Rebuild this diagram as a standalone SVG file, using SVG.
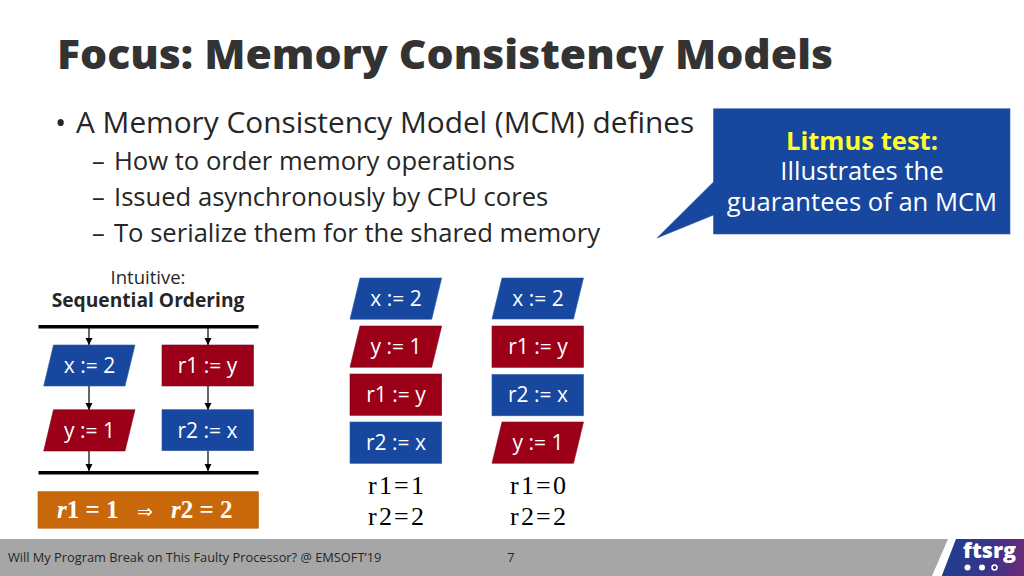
<svg xmlns="http://www.w3.org/2000/svg" width="1024" height="576" viewBox="0 0 1024 576">
<defs>
<linearGradient id="lg" x1="0" y1="0" x2="1" y2="0"><stop offset="0" stop-color="#1f3f8f"/><stop offset="0.6" stop-color="#3a3488"/><stop offset="1" stop-color="#6b2a7a"/></linearGradient>
<marker id="ah" markerWidth="10" markerHeight="10" refX="7" refY="3.5" orient="auto" markerUnits="userSpaceOnUse"><path d="M0 0L7 3.5L0 7z" fill="#000"/></marker>
</defs>
<style>
text{font-family:"Open Sans","Noto Sans",sans-serif}
.b{fill:#17479e;stroke:#2a5aa8;stroke-width:.6}
.r{fill:#9b0018;stroke:#7d0c20;stroke-width:.6}
.n{font-size:21px;fill:#fff;text-anchor:middle}
.bar{stroke:#000;stroke-width:3.4}
.c{stroke:#000;stroke-width:1.2;fill:none;marker-end:url(#ah)}
.o{font-family:"Liberation Serif",serif;font-size:26px;fill:#000;text-anchor:middle}
.sub{font-size:25.600px;fill:#262626}
.co{font-size:25.600px;text-anchor:middle}
</style>
<rect width="1024" height="576" fill="#fff"/>
<text x="57" y="69" font-size="40px" font-weight="800" fill="#333" textLength="776" lengthAdjust="spacingAndGlyphs">Focus: Memory Consistency Models</text>
<g id="bullets">
<text x="55" y="133" font-size="29.800px" fill="#262626">• <tspan x="76">A Memory Consistency Model (MCM) defines</tspan></text>
<text x="92" y="170" class="sub">– <tspan x="114">How to order memory operations</tspan></text>
<text x="92" y="206" class="sub">– <tspan x="114">Issued asynchronously by CPU cores</tspan></text>
<text x="92" y="242" class="sub">– <tspan x="114">To serialize them for the shared memory</tspan></text>
</g>
<g id="callout">
<path class="b" d="M713.5 108.700H1010V234H713.500V215L657 238L713.500 182Z"/>
<text x="862" y="150" class="co" font-weight="700" fill="#ffff2e">Litmus test:</text>
<text x="862" y="180" class="co" fill="#fff">Illustrates the</text>
<text x="862" y="211" class="co" fill="#fff">guarantees of an MCM</text>
</g>
<g id="heading">
<text x="148" y="284" font-size="18.500px" fill="#262626" text-anchor="middle">Intuitive:</text>
<text x="148" y="307" font-size="19.200px" font-weight="700" fill="#262626" text-anchor="middle">Sequential Ordering</text>
</g>
<g id="connectors">
<line class="bar" x1="38.500" y1="326.700" x2="258.500" y2="326.700"/>
<line class="bar" x1="38.500" y1="472.700" x2="258.500" y2="472.700"/>
<line class="c" x1="89" y1="328" x2="89" y2="345"/>
<line class="c" x1="89" y1="386" x2="89" y2="410"/>
<line class="c" x1="89" y1="451" x2="89" y2="471"/>
<line class="c" x1="208" y1="328" x2="208" y2="345"/>
<line class="c" x1="208" y1="386" x2="208" y2="410"/>
<line class="c" x1="208" y1="451" x2="208" y2="471"/>
</g>
<g id="s-x"><path class="b" d="M53.500 345H135L125 386H43.700Z"/><text class="n" x="89.500" y="373">x := 2</text></g>
<g id="s-y"><path class="r" d="M53.500 409.700H135L125 451H43.700Z"/><text class="n" x="89.500" y="438">y := 1</text></g>
<g id="s-r1"><rect class="r" x="162" y="345" width="91.500" height="41"/><text class="n" x="207.500" y="373">r1 := y</text></g>
<g id="s-r2"><rect class="b" x="162" y="409.700" width="91.500" height="41"/><text class="n" x="207.500" y="438">r2 := x</text></g>
<g id="result">
<rect x="38" y="491.700" width="220.500" height="36.500" fill="#c8680a" stroke="#b65f0c" stroke-width=".6"/>
<text x="57" y="518" font-size="25px" font-weight="700" fill="#fff" xml:space="preserve" style="font-family:'Liberation Serif',serif"><tspan font-style="italic">r</tspan>1 = 1<tspan x="137" font-weight="400" font-size="19px">⇒</tspan><tspan x="171" font-style="italic">r</tspan>2 = 2</text>
</g>
<g id="a-x"><path class="b" d="M360 278H441.700L431.700 319.300H350Z"/><text class="n" x="396" y="306">x := 2</text></g>
<g id="a-y"><path class="r" d="M360 326H441.700L431.700 367.300H350Z"/><text class="n" x="396" y="354">y := 1</text></g>
<g id="a-r1"><rect class="r" x="350" y="374" width="91.700" height="41.300"/><text class="n" x="396" y="402">r1 := y</text></g>
<g id="a-r2"><rect class="b" x="350" y="422" width="91.700" height="41.300"/><text class="n" x="396" y="450">r2 := x</text></g>
<g id="a-out"><text class="o" x="396" y="494" textLength="56">r1=1</text><text class="o" x="396" y="525" textLength="56">r2=2</text></g>
<g id="b-x"><path class="b" d="M502 278H583.500L573.500 319H492Z"/><text class="n" x="538" y="306">x := 2</text></g>
<g id="b-r1"><rect class="r" x="492" y="326" width="91.500" height="41.300"/><text class="n" x="538" y="354">r1 := y</text></g>
<g id="b-r2"><rect class="b" x="492" y="374.500" width="91.500" height="41.300"/><text class="n" x="538" y="402">r2 := x</text></g>
<g id="b-y"><path class="r" d="M502 422H583.500L573.500 463.300H492Z"/><text class="n" x="538" y="450">y := 1</text></g>
<g id="b-out"><text class="o" x="538" y="494" textLength="56">r1=0</text><text class="o" x="538" y="525" textLength="56">r2=2</text></g>
<g id="footer">
<path d="M0 539H948L932 576H0Z" fill="#a6a6a6"/>
<path d="M956 539H1024V576H941.700Z" fill="url(#lg)"/>
<text x="8" y="562" font-size="12.800px" fill="#262626">Will My Program Break on This Faulty Processor? @ EMSOFT’19</text>
<text x="511" y="562" font-size="12.800px" fill="#262626" text-anchor="middle">7</text>
<text x="963" y="558" font-size="21.500px" font-weight="800" fill="#fff">ftsrg</text>
<circle cx="967.500" cy="567.500" r="3" fill="#fff"/><circle cx="982" cy="567.500" r="3" fill="#fff"/><circle cx="994.500" cy="567.500" r="2.500" fill="none" stroke="#fff" stroke-width="1.500"/>
</g>
</svg>
